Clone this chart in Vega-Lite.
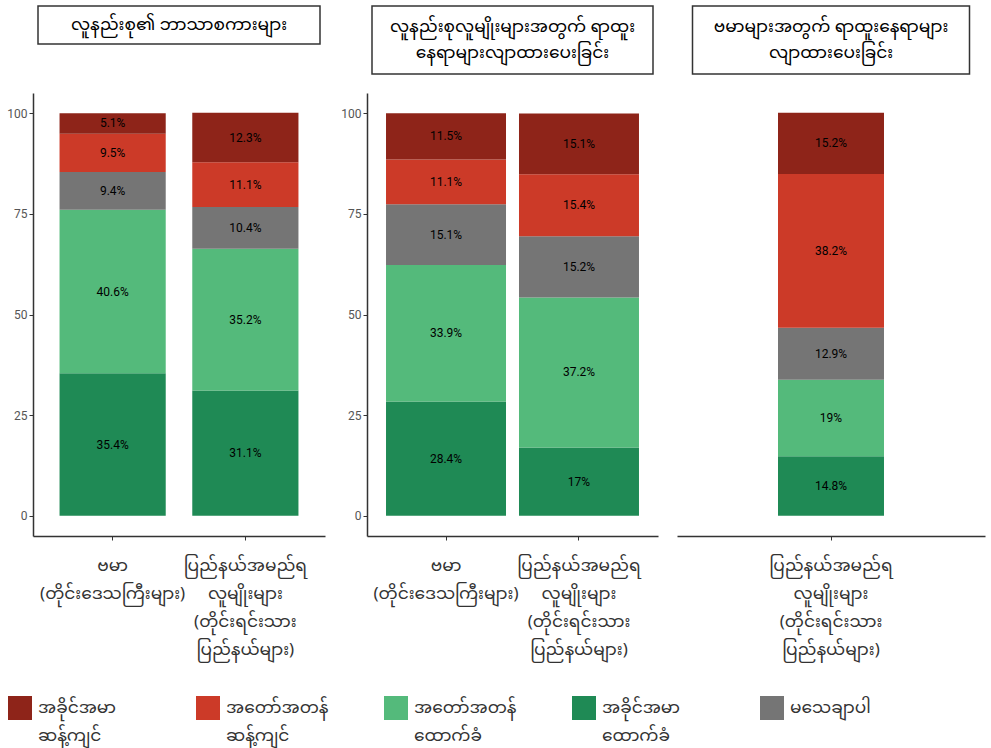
{
  "$schema": "https://vega.github.io/schema/vega-lite/v6.json",
  "background": "white",
  "padding": 5,
  "spacing": 14,
  "datasets": {
    "d": [
      {"panel": "p1", "group": "ဗမာ\n(တိုင်းဒေသကြီးများ)", "resp": "အခိုင်အမာ\nထောက်ခံ", "order": 1, "value": 35.4},
      {"panel": "p1", "group": "ဗမာ\n(တိုင်းဒေသကြီးများ)", "resp": "အတော်အတန်\nထောက်ခံ", "order": 2, "value": 40.6},
      {"panel": "p1", "group": "ဗမာ\n(တိုင်းဒေသကြီးများ)", "resp": "မသေချာပါ", "order": 3, "value": 9.4},
      {"panel": "p1", "group": "ဗမာ\n(တိုင်းဒေသကြီးများ)", "resp": "အတော်အတန်\nဆန့်ကျင်", "order": 4, "value": 9.5},
      {"panel": "p1", "group": "ဗမာ\n(တိုင်းဒေသကြီးများ)", "resp": "အခိုင်အမာ\nဆန့်ကျင်", "order": 5, "value": 5.1},
      {"panel": "p1", "group": "ပြည်နယ်အမည်ရ\nလူမျိုးများ\n(တိုင်းရင်းသား\nပြည်နယ်များ)", "resp": "အခိုင်အမာ\nထောက်ခံ", "order": 1, "value": 31.1},
      {"panel": "p1", "group": "ပြည်နယ်အမည်ရ\nလူမျိုးများ\n(တိုင်းရင်းသား\nပြည်နယ်များ)", "resp": "အတော်အတန်\nထောက်ခံ", "order": 2, "value": 35.2},
      {"panel": "p1", "group": "ပြည်နယ်အမည်ရ\nလူမျိုးများ\n(တိုင်းရင်းသား\nပြည်နယ်များ)", "resp": "မသေချာပါ", "order": 3, "value": 10.4},
      {"panel": "p1", "group": "ပြည်နယ်အမည်ရ\nလူမျိုးများ\n(တိုင်းရင်းသား\nပြည်နယ်များ)", "resp": "အတော်အတန်\nဆန့်ကျင်", "order": 4, "value": 11.1},
      {"panel": "p1", "group": "ပြည်နယ်အမည်ရ\nလူမျိုးများ\n(တိုင်းရင်းသား\nပြည်နယ်များ)", "resp": "အခိုင်အမာ\nဆန့်ကျင်", "order": 5, "value": 12.3},
      {"panel": "p2", "group": "ဗမာ\n(တိုင်းဒေသကြီးများ)", "resp": "အခိုင်အမာ\nထောက်ခံ", "order": 1, "value": 28.4},
      {"panel": "p2", "group": "ဗမာ\n(တိုင်းဒေသကြီးများ)", "resp": "အတော်အတန်\nထောက်ခံ", "order": 2, "value": 33.9},
      {"panel": "p2", "group": "ဗမာ\n(တိုင်းဒေသကြီးများ)", "resp": "မသေချာပါ", "order": 3, "value": 15.1},
      {"panel": "p2", "group": "ဗမာ\n(တိုင်းဒေသကြီးများ)", "resp": "အတော်အတန်\nဆန့်ကျင်", "order": 4, "value": 11.1},
      {"panel": "p2", "group": "ဗမာ\n(တိုင်းဒေသကြီးများ)", "resp": "အခိုင်အမာ\nဆန့်ကျင်", "order": 5, "value": 11.5},
      {"panel": "p2", "group": "ပြည်နယ်အမည်ရ\nလူမျိုးများ\n(တိုင်းရင်းသား\nပြည်နယ်များ)", "resp": "အခိုင်အမာ\nထောက်ခံ", "order": 1, "value": 17},
      {"panel": "p2", "group": "ပြည်နယ်အမည်ရ\nလူမျိုးများ\n(တိုင်းရင်းသား\nပြည်နယ်များ)", "resp": "အတော်အတန်\nထောက်ခံ", "order": 2, "value": 37.2},
      {"panel": "p2", "group": "ပြည်နယ်အမည်ရ\nလူမျိုးများ\n(တိုင်းရင်းသား\nပြည်နယ်များ)", "resp": "မသေချာပါ", "order": 3, "value": 15.2},
      {"panel": "p2", "group": "ပြည်နယ်အမည်ရ\nလူမျိုးများ\n(တိုင်းရင်းသား\nပြည်နယ်များ)", "resp": "အတော်အတန်\nဆန့်ကျင်", "order": 4, "value": 15.4},
      {"panel": "p2", "group": "ပြည်နယ်အမည်ရ\nလူမျိုးများ\n(တိုင်းရင်းသား\nပြည်နယ်များ)", "resp": "အခိုင်အမာ\nဆန့်ကျင်", "order": 5, "value": 15.1},
      {"panel": "p3", "group": "ပြည်နယ်အမည်ရ\nလူမျိုးများ\n(တိုင်းရင်းသား\nပြည်နယ်များ)", "resp": "အခိုင်အမာ\nထောက်ခံ", "order": 1, "value": 14.8},
      {"panel": "p3", "group": "ပြည်နယ်အမည်ရ\nလူမျိုးများ\n(တိုင်းရင်းသား\nပြည်နယ်များ)", "resp": "အတော်အတန်\nထောက်ခံ", "order": 2, "value": 19},
      {"panel": "p3", "group": "ပြည်နယ်အမည်ရ\nလူမျိုးများ\n(တိုင်းရင်းသား\nပြည်နယ်များ)", "resp": "မသေချာပါ", "order": 3, "value": 12.9},
      {"panel": "p3", "group": "ပြည်နယ်အမည်ရ\nလူမျိုးများ\n(တိုင်းရင်းသား\nပြည်နယ်များ)", "resp": "အတော်အတန်\nဆန့်ကျင်", "order": 4, "value": 38.2},
      {"panel": "p3", "group": "ပြည်နယ်အမည်ရ\nလူမျိုးများ\n(တိုင်းရင်းသား\nပြည်နယ်များ)", "resp": "အခိုင်အမာ\nဆန့်ကျင်", "order": 5, "value": 15.2}
    ]
  },
  "hconcat": [
    {
      "spacing": 49,
      "bounds": "flush",
      "center": true,
      "vconcat": [
        {
          "width": 282, "height": 38,
          "view": {"stroke": "#333333", "strokeWidth": 1.5},
          "data": {"values": [{"line": 1, "t": "လူနည်းစု၏ ဘာသာစကားများ"}]},
          "mark": {"type": "text", "fontSize": 17, "font": "Noto Sans Myanmar, Noto Sans, sans-serif", "color": "black"},
          "encoding": {
            "y": {"field": "line", "type": "ordinal", "axis": null, "scale": {"type": "point", "padding": 0.85}},
            "text": {"field": "t", "type": "nominal"}
          }
        },
        {
          "width": 292, "height": 443,
          "view": {"stroke": null},
          "data": {"name": "d"},
          "transform": [
            {"filter": "datum.panel === 'p1'"},
            {"stack": "value", "groupby": ["group"], "sort": [{"field": "order", "order": "ascending"}], "as": ["y0", "y1"]},
            {"calculate": "(datum.y0 + datum.y1) / 2", "as": "mid"},
            {"calculate": "datum.value + '%'", "as": "label"}
          ],
          "encoding": {
            "x": {"field": "group", "type": "nominal", "sort": null, "scale": {"paddingInner": 0.2, "paddingOuter": 0.2},
                  "axis": {"title": null, "labelAngle": 0, "labelExpr": "split(datum.label, '\\n')", "labelLineHeight": 28, "labelFontSize": 17, "labelColor": "#333333", "labelFont": "Noto Sans Myanmar, Noto Sans, sans-serif", "labelLimit": 400, "labelOverlap": false, "labelPadding": 17, "labelBaseline": "top"}}
          },
          "layer": [
            {
              "mark": {"type": "bar"},
              "encoding": {
                "y": {"field": "y0", "type": "quantitative", "scale": {"domain": [-5, 105], "nice": false, "zero": false}, "axis": {"title": null, "values": [0, 25, 50, 75, 100], "minExtent": 28, "maxExtent": 28}},
                "y2": {"field": "y1"},
                "color": {"field": "resp", "type": "nominal",
                  "scale": {"domain": ["အခိုင်အမာ\nဆန့်ကျင်", "အတော်အတန်\nဆန့်ကျင်", "အတော်အတန်\nထောက်ခံ", "အခိုင်အမာ\nထောက်ခံ", "မသေချာပါ"],
                            "range": ["#8E2419", "#CC3A28", "#54BA7B", "#1F8A55", "#757575"]},
                  "legend": {"title": null, "orient": "none", "legendX": -25, "legendY": 690, "direction": "horizontal", "columns": 5,
                    "labelExpr": "indexof(datum.label, '\\n') >= 0 ? split(datum.label, '\\n') : [datum.label, '']",
                    "labelBaseline": "middle", "gridAlign": "all", "columnPadding": 55, "padding": 0,
                    "symbolType": "square", "symbolSize": 576, "symbolStrokeWidth": 0, "symbolOpacity": 1,
                    "labelFontSize": 17, "labelColor": "#333333", "labelFont": "Noto Sans Myanmar, Noto Sans, sans-serif", "labelLimit": 400, "labelOffset": 6}}
              }
            },
            {
              "mark": {"type": "text", "fontSize": 12, "color": "black", "font": "Roboto"},
              "encoding": {
                "y": {"field": "mid", "type": "quantitative"},
                "text": {"field": "label", "type": "nominal"}
              }
            }
          ]
        }
      ]
    },
    {
      "spacing": 19,
      "bounds": "flush",
      "center": true,
      "vconcat": [
        {
          "width": 281, "height": 68,
          "view": {"stroke": "#333333", "strokeWidth": 1.5},
          "data": {"values": [{"line": 1, "t": "လူနည်းစုလူမျိုးများအတွက် ရာထူး"}, {"line": 2, "t": "နေရာများလျာထားပေးခြင်း"}]},
          "mark": {"type": "text", "fontSize": 17, "font": "Noto Sans Myanmar, Noto Sans, sans-serif", "color": "black"},
          "encoding": {
            "y": {"field": "line", "type": "ordinal", "axis": null, "scale": {"type": "point", "padding": 0.85}},
            "text": {"field": "t", "type": "nominal"}
          }
        },
        {
          "width": 291, "height": 443,
          "view": {"stroke": null},
          "data": {"name": "d"},
          "transform": [
            {"filter": "datum.panel === 'p2'"},
            {"stack": "value", "groupby": ["group"], "sort": [{"field": "order", "order": "ascending"}], "as": ["y0", "y1"]},
            {"calculate": "(datum.y0 + datum.y1) / 2", "as": "mid"},
            {"calculate": "datum.value + '%'", "as": "label"}
          ],
          "encoding": {
            "x": {"field": "group", "type": "nominal", "sort": null, "scale": {"paddingInner": 0.0977, "paddingOuter": 0.143},
                  "axis": {"title": null, "labelAngle": 0, "labelExpr": "split(datum.label, '\\n')", "labelLineHeight": 28, "labelFontSize": 17, "labelColor": "#333333", "labelFont": "Noto Sans Myanmar, Noto Sans, sans-serif", "labelLimit": 400, "labelOverlap": false, "labelPadding": 17, "labelBaseline": "top"}}
          },
          "layer": [
            {
              "mark": {"type": "bar"},
              "encoding": {
                "y": {"field": "y0", "type": "quantitative", "scale": {"domain": [-5, 105], "nice": false, "zero": false}, "axis": {"title": null, "values": [0, 25, 50, 75, 100], "minExtent": 28, "maxExtent": 28}},
                "y2": {"field": "y1"},
                "color": {"field": "resp", "type": "nominal"}
              }
            },
            {
              "mark": {"type": "text", "fontSize": 12, "color": "black", "font": "Roboto"},
              "encoding": {
                "y": {"field": "mid", "type": "quantitative"},
                "text": {"field": "label", "type": "nominal"}
              }
            }
          ]
        }
      ]
    },
    {
      "spacing": 19,
      "bounds": "flush",
      "center": true,
      "vconcat": [
        {
          "width": 277, "height": 68,
          "view": {"stroke": "#333333", "strokeWidth": 1.5},
          "data": {"values": [{"line": 1, "t": "ဗမာများအတွက် ရာထူးနေရာများ"}, {"line": 2, "t": "လျာထားပေးခြင်း"}]},
          "mark": {"type": "text", "fontSize": 17, "font": "Noto Sans Myanmar, Noto Sans, sans-serif", "color": "black"},
          "encoding": {
            "y": {"field": "line", "type": "ordinal", "axis": null, "scale": {"type": "point", "padding": 0.85}},
            "text": {"field": "t", "type": "nominal"}
          }
        },
        {
          "width": 308, "height": 443,
          "view": {"stroke": null},
          "data": {"name": "d"},
          "transform": [
            {"filter": "datum.panel === 'p3'"},
            {"stack": "value", "groupby": ["group"], "sort": [{"field": "order", "order": "ascending"}], "as": ["y0", "y1"]},
            {"calculate": "(datum.y0 + datum.y1) / 2", "as": "mid"},
            {"calculate": "datum.value + '%'", "as": "label"}
          ],
          "encoding": {
            "x": {"field": "group", "type": "nominal", "sort": null, "scale": {"paddingInner": 0, "paddingOuter": 0.953},
                  "axis": {"title": null, "labelAngle": 0, "labelExpr": "split(datum.label, '\\n')", "labelLineHeight": 28, "labelFontSize": 17, "labelColor": "#333333", "labelFont": "Noto Sans Myanmar, Noto Sans, sans-serif", "labelLimit": 400, "labelOverlap": false, "labelPadding": 17, "labelBaseline": "top"}}
          },
          "layer": [
            {
              "mark": {"type": "bar"},
              "encoding": {
                "y": {"field": "y0", "type": "quantitative", "scale": {"domain": [-5, 105], "nice": false, "zero": false}, "axis": {"title": null, "domain": false, "ticks": false, "labels": false, "minExtent": 5, "maxExtent": 5}},
                "y2": {"field": "y1"},
                "color": {"field": "resp", "type": "nominal"}
              }
            },
            {
              "mark": {"type": "text", "fontSize": 12, "color": "black", "font": "Roboto"},
              "encoding": {
                "y": {"field": "mid", "type": "quantitative"},
                "text": {"field": "label", "type": "nominal"}
              }
            }
          ]
        }
      ]
    }
  ],
  "resolve": {"scale": {"color": "shared"}, "legend": {"color": "shared"}},
  "config": {
    "view": {"stroke": null},
    "axis": {"grid": false, "domainColor": "#333333", "domainWidth": 1.5, "tickColor": "#333333", "tickSize": 4, "labelColor": "#555555", "labelFontSize": 12, "labelFont": "Roboto"},
    "style": {"guide-label": {"lineHeight": 28}}
  }
}
